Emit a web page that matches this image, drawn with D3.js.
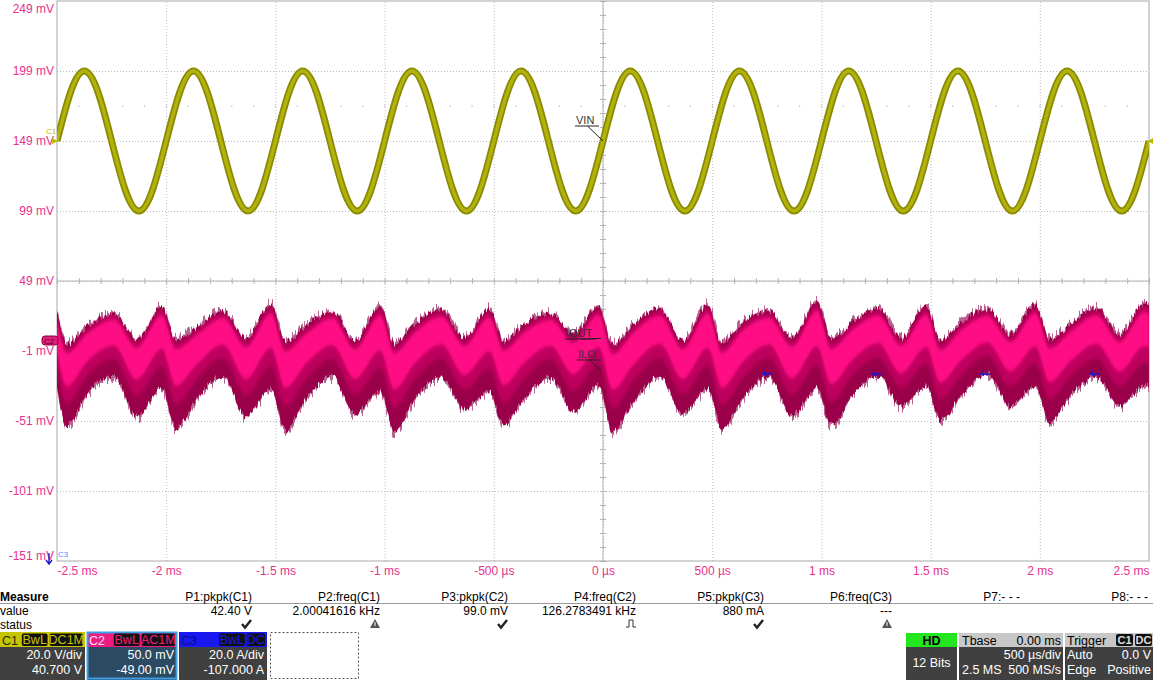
<!DOCTYPE html>
<html>
<head>
<meta charset="utf-8">
<script src="https://cdn.jsdelivr.net/npm/d3@7"></script>
<style>
  body { margin: 0; background: #fff; }
  svg { display: block; font-family: "Liberation Sans", Arial, sans-serif; }
</style>
</head>
<body>
<svg id="scope" width="1153" height="680"></svg>
<script>
// ---- data ----
var timeTicks = [-2.5, -2, -1.5, -1, -0.5, 0, 0.5, 1, 1.5, 2, 2.5];           // ms
var timeLabels = ["-2.5 ms", "-2 ms", "-1.5 ms", "-1 ms", "-500 µs", "0 µs",
                  "500 µs", "1 ms", "1.5 ms", "2 ms", "2.5 ms"];
var voltTicks = [249, 199, 149, 99, 49, -1, -51, -101, -151];                  // mV

// C1 / VIN, one sample every 0.0625 ms from -2.5 ms
var vinStart = -2.5, vinStep = 0.0625;
var vinMv = [
  149, 184, 199, 184, 149, 114, 99, 114,
  149, 184, 199, 184, 149, 114, 99, 114,
  149, 184, 199, 184, 149, 114, 99, 114,
  149, 184, 199, 184, 149, 114, 99, 114,
  149, 184, 199, 184, 149, 114, 99, 114,
  149, 184, 199, 184, 149, 114, 99, 114,
  149, 184, 199, 184, 149, 114, 99, 114,
  149, 184, 199, 184, 149, 114, 99, 114,
  149, 184, 199, 184, 149, 114, 99, 114,
  149, 184, 199, 184, 149, 114, 99, 114,
  149
];

// C2 / IOUT envelope (upper and lower edge of the noisy band)
var ilTime = [-2.5,
  -2.455, -2.36, -2.24, -2.135, -2.02,
  -1.955, -1.86, -1.74, -1.635, -1.52,
  -1.455, -1.36, -1.24, -1.135, -1.02,
  -0.955, -0.86, -0.74, -0.635, -0.52,
  -0.455, -0.36, -0.24, -0.135, -0.02,
  0.045, 0.14, 0.26, 0.365, 0.48,
  0.545, 0.64, 0.76, 0.865, 0.98,
  1.045, 1.14, 1.26, 1.365, 1.48,
  1.545, 1.64, 1.76, 1.865, 1.98,
  2.045, 2.14, 2.26, 2.365, 2.48,
  2.5];
var ilHigh = [28.3,
  4.7, 17.6, 26.9, 8.3, 31.9,
  8.3, 16.9, 28.3, 9.0, 33.3,
  6.9, 17.6, 28.3, 6.9, 31.9,
  5.4, 19.0, 29.7, 9.0, 30.4,
  6.9, 19.0, 26.9, 11.9, 31.9,
  4.7, 19.0, 30.4, 6.9, 33.3,
  5.4, 20.4, 28.3, 9.0, 35.4,
  8.3, 20.4, 30.4, 9.0, 31.9,
  6.9, 20.4, 29.7, 11.9, 33.3,
  8.3, 19.0, 30.4, 11.9, 34.0,
  33.0];
var ilLow = [-28.9,
  -55.3, -32.4, -19.6, -48.9, -28.9,
  -57.4, -36.0, -19.6, -48.9, -28.9,
  -58.9, -36.1, -20.3, -46.7, -31.0,
  -59.6, -36.1, -20.3, -43.2, -31.0,
  -55.3, -36.1, -20.3, -45.3, -26.7,
  -59.6, -38.3, -20.3, -46.7, -28.9,
  -57.4, -36.1, -19.6, -48.1, -28.9,
  -55.3, -33.9, -19.6, -41.0, -26.7,
  -51.7, -33.9, -18.0, -41.0, -26.7,
  -52.4, -33.9, -20.3, -41.0, -26.7,
  -27.5];

// C3 fragments visible on screen
var c3Time = [0.75, 1.25, 1.75, 2.25];
var c3Mv = [-17.5, -17.5, -17.5, -17.5];

// measurement table
var measNames = ["P1:pkpk(C1)", "P2:freq(C1)", "P3:pkpk(C2)", "P4:freq(C2)",
                 "P5:pkpk(C3)", "P6:freq(C3)", "P7:- - -", "P8:- - -"];
var measValues = ["42.40 V", "2.00041616 kHz", "99.0 mV", "126.2783491 kHz",
                  "880 mA", "---", "", ""];
var measStatus = ["ok", "warn", "ok", "pulse", "ok", "warn", "", ""];

// ---- layout ----
var svg = d3.select("#scope");
var plot = { left: 57, right: 1149, top: 1, bottom: 561 };
var pink = "#e8308c";

var x = d3.scaleLinear().domain([-2.5, 2.5]).range([plot.left, plot.right]);
var y = d3.scaleLinear().domain([-151, 249]).range([plot.bottom, plot.top]);

var defs = svg.append("defs");
defs.append("clipPath").attr("id", "plotclip")
  .append("rect")
    .attr("x", plot.left).attr("y", plot.top)
    .attr("width", plot.right - plot.left).attr("height", plot.bottom - plot.top);

// hairy edges of the ripple band
function hairFilter(id, seed, scale) {
  var f = defs.append("filter").attr("id", id)
    .attr("x", "-2%").attr("y", "-40%").attr("width", "104%").attr("height", "180%");
  f.append("feTurbulence").attr("type", "fractalNoise")
    .attr("baseFrequency", "0.5 0.02").attr("numOctaves", 2).attr("seed", seed)
    .attr("result", "noise");
  f.append("feColorMatrix").attr("in", "noise").attr("type", "matrix")
    .attr("values", "0 0 0 0 0.5  0 2.4 0 0 -0.7  0 0 0 0 0  0 0 0 0 1")
    .attr("result", "map");
  f.append("feDisplacementMap").attr("in", "SourceGraphic").attr("in2", "map")
    .attr("scale", scale).attr("xChannelSelector", "R").attr("yChannelSelector", "G");
}
hairFilter("hair1", 4, 11);
hairFilter("hair2", 9, 6);
defs.append("filter").attr("id", "soft").attr("x", "-2%").attr("y", "-40%")
  .attr("width", "104%").attr("height", "180%")
  .append("feGaussianBlur").attr("stdDeviation", "1 2.2");

// grid (dotted)
var gridX = svg.append("g")
  .attr("transform", "translate(0," + plot.bottom + ")")
  .call(d3.axisBottom(x).tickValues(timeTicks.slice(1, -1))
    .tickSize(-(plot.bottom - plot.top)).tickFormat(""));
var gridY = svg.append("g")
  .attr("transform", "translate(" + plot.left + ",0)")
  .call(d3.axisLeft(y).tickValues(voltTicks.slice(1, -1))
    .tickSize(-(plot.right - plot.left)).tickFormat(""));
[gridX, gridY].forEach(function(g) {
  g.select(".domain").remove();
  g.selectAll("line").attr("stroke", "#bcbcbc").attr("stroke-dasharray", "1,2");
});

// faint dotted row at 174 mV
svg.append("g").selectAll("rect").data(d3.range(-2.4, 2.45, 0.1)).enter().append("rect")
  .attr("x", function(d) { return x(d) - 0.5; }).attr("y", y(174) - 0.5)
  .attr("width", 1.2).attr("height", 1.2).attr("fill", "#b0b0b0");

// centre cross with minor ticks
var cx = x(0), cy = y(49);
svg.append("line").attr("x1", cx).attr("x2", cx).attr("y1", plot.top).attr("y2", plot.bottom)
  .attr("stroke", "#b4b4b4");
svg.append("line").attr("x1", plot.left).attr("x2", plot.right).attr("y1", cy).attr("y2", cy)
  .attr("stroke", "#b4b4b4");
svg.append("g").attr("transform", "translate(0," + (cy + 3) + ")")
  .call(d3.axisTop(x).tickValues(d3.range(-2.5, 2.51, 0.1)).tickSize(6).tickFormat(""))
  .call(function(g) { g.select(".domain").remove(); g.selectAll("line").attr("stroke", "#b4b4b4"); });
svg.append("g").attr("transform", "translate(" + (cx + 3) + ",0)")
  .call(d3.axisLeft(y).tickValues(d3.range(-151, 250, 10)).tickSize(6).tickFormat(""))
  .call(function(g) { g.select(".domain").remove(); g.selectAll("line").attr("stroke", "#b4b4b4"); });

// frame
svg.append("rect")
  .attr("x", plot.left).attr("y", plot.top)
  .attr("width", plot.right - plot.left).attr("height", plot.bottom - plot.top)
  .attr("fill", "none").attr("stroke", "#a8a8a8");

// axis labels
var yAx = svg.append("g").attr("transform", "translate(" + (plot.left - 3) + ",0)")
  .call(d3.axisLeft(y).tickValues(voltTicks).tickSize(0).tickPadding(0)
    .tickFormat(function(d) { return d + " mV"; }));
yAx.select(".domain").remove();
yAx.selectAll("text").attr("fill", pink).style("font-size", "12px")
  .style("font-family", "Liberation Sans, Arial, sans-serif")
  .attr("dy", function(d) { return d === 249 ? "0.95em" : d === -151 ? "-0.1em" : "0.32em"; });

var xAx = svg.append("g").attr("transform", "translate(0," + plot.bottom + ")")
  .call(d3.axisBottom(x).tickValues(timeTicks).tickSize(0).tickPadding(5)
    .tickFormat(function(d, i) { return timeLabels[i]; }));
xAx.select(".domain").remove();
xAx.selectAll("text").attr("fill", pink).style("font-size", "12px")
  .style("font-family", "Liberation Sans, Arial, sans-serif")
  .attr("text-anchor", function(d, i) { return i === 0 ? "start" : i === timeTicks.length - 1 ? "end" : "middle"; });

// ---- traces ----
var traces = svg.append("g").attr("clip-path", "url(#plotclip)");

var ilData = ilTime.map(function(t, i) { return { t: t, hi: ilHigh[i], lo: ilLow[i] }; });
var band = d3.area().curve(d3.curveMonotoneX)
  .x(function(d) { return x(d.t); });
function bandPart(f0, f1) {
  return band
    .y0(function(d) { return y(d.hi - f1 * (d.hi - d.lo)); })
    .y1(function(d) { return y(d.hi - f0 * (d.hi - d.lo)); })(ilData);
}
traces.append("path").attr("d", bandPart(0, 1)).attr("fill", "#b86592").attr("filter", "url(#hair1)");
traces.append("path").attr("d", bandPart(0.02, 0.98)).attr("fill", "#9a0049").attr("filter", "url(#hair2)");
traces.append("path").attr("d", bandPart(0.06, 0.72)).attr("fill", "#bd005d").attr("filter", "url(#soft)");
traces.append("path").attr("d", bandPart(0.12, 0.52)).attr("fill", "#ff0a84").attr("filter", "url(#soft)");

// VIN
var vinLine = d3.line().curve(d3.curveNatural)
  .x(function(d, i) { return x(vinStart + i * vinStep); })
  .y(function(d) { return y(d); });
traces.append("path").attr("d", vinLine(vinMv)).attr("fill", "none")
  .attr("stroke", "#8a8a00").attr("stroke-width", 7);
traces.append("path").attr("d", vinLine(vinMv)).attr("fill", "none")
  .attr("stroke", "#b2b20e").attr("stroke-width", 3.5);

// C3 fragments
var c3 = traces.append("g").attr("stroke", "#1a1ad0").attr("stroke-width", 1.6);
c3.selectAll("line.h").data(c3Time).enter().append("line")
  .attr("x1", function(d) { return x(d) - 5; }).attr("x2", function(d) { return x(d) + 5; })
  .attr("y1", function(d, i) { return y(c3Mv[i]); }).attr("y2", function(d, i) { return y(c3Mv[i]); });
c3.selectAll("line.v").data(c3Time).enter().append("line")
  .attr("x1", function(d) { return x(d) - 2; }).attr("x2", function(d) { return x(d) - 2; })
  .attr("y1", function(d, i) { return y(c3Mv[i]) - 3; }).attr("y2", function(d, i) { return y(c3Mv[i]) + 2; });

// ---- trace labels and markers ----
function tag(label, tx, ty, px, py) {
  var g = svg.append("g");
  g.append("text").attr("x", tx).attr("y", ty).attr("font-size", 11).attr("fill", "#333")
    .text(label);
  var w = label.length * 7 + 2;
  g.append("line").attr("x1", tx - 1).attr("x2", tx + w).attr("y1", ty + 2).attr("y2", ty + 2)
    .attr("stroke", "#222");
  g.append("line").attr("x1", tx + w * 0.5).attr("y1", ty + 2).attr("x2", px).attr("y2", py)
    .attr("stroke", "#222");
}
tag("VIN", 576, 124, x(0), y(149));
tag("IOUT", 566, 337, x(0) - 2, y(8));
tag("ILO", 578, 358, x(0) - 2, y(-15));

// C1 marker
svg.append("text").attr("x", 46).attr("y", 134).attr("font-size", 8).attr("fill", "#b8b800").text("C1");
svg.append("path").attr("d", d3.line()([[52, y(149) - 3], [58, y(149)], [52, y(149) + 3]]))
  .attr("fill", "#b8b800");
svg.append("path").attr("d", d3.line()([[plot.right + 4, y(149) - 3], [plot.right - 1, y(149)], [plot.right + 4, y(149) + 3]]))
  .attr("fill", "#b8b800");
// C2 marker
svg.append("rect").attr("x", 42).attr("y", 336).attr("width", 16).attr("height", 9).attr("rx", 3)
  .attr("fill", "#e0207a").attr("stroke", "#8a0040");
svg.append("text").attr("x", 44).attr("y", 343.5).attr("font-size", 8).attr("fill", "#5a0028").text("C2");
// C3 marker
svg.append("text").attr("x", 58).attr("y", 557).attr("font-size", 8).attr("fill", "#5a8cff").text("C3");
svg.append("path").attr("d", "M49,553 V563 M46,560 L49,564 L52,560")
  .attr("stroke", "#1a1ad0").attr("stroke-width", 1.4).attr("fill", "none");

// ---- measurement table ----
var colRight = measNames.map(function(d, i) { return 252 + 128 * i; });
var meas = svg.append("g").attr("font-size", 12).attr("fill", "#000");
meas.append("text").attr("x", 0).attr("y", 601).attr("font-weight", "bold").text("Measure");
meas.append("text").attr("x", 0).attr("y", 615).text("value");
meas.append("text").attr("x", 0).attr("y", 629).text("status");
meas.append("line").attr("x1", 0).attr("x2", 1153).attr("y1", 603.5).attr("y2", 603.5)
  .attr("stroke", "#9a9a9a");
meas.selectAll("text.name").data(measNames).enter().append("text")
  .attr("x", function(d, i) { return colRight[i]; }).attr("y", 601)
  .attr("text-anchor", "end").text(function(d) { return d; });
meas.selectAll("text.val").data(measValues).enter().append("text")
  .attr("x", function(d, i) { return colRight[i]; })
  .attr("y", 615)
  .attr("text-anchor", "end").text(function(d) { return d; });
measStatus.forEach(function(s, i) {
  var cxs = colRight[i] - 5;
  if (s === "ok") {
    meas.append("path").attr("d", "M" + (cxs - 5) + ",624 L" + (cxs - 2) + ",627.5 L" + (cxs + 4) + ",620")
      .attr("stroke", "#222").attr("stroke-width", 2.4).attr("fill", "none");
  } else if (s === "warn") {
    meas.append("path").attr("d", "M" + (cxs - 5) + ",628 L" + cxs + ",619 L" + (cxs + 5) + ",628 Z")
      .attr("fill", "#555");
    meas.append("line").attr("x1", cxs).attr("x2", cxs).attr("y1", 622).attr("y2", 626)
      .attr("stroke", "#fff").attr("stroke-width", 1);
  } else if (s === "pulse") {
    meas.append("path").attr("d", "M" + (cxs - 5) + ",627 H" + (cxs - 2) + " V620 H" + (cxs + 2) + " V627 H" + (cxs + 5))
      .attr("stroke", "#333").attr("stroke-width", 1).attr("fill", "none");
  }
});

// ---- channel descriptor boxes ----
function chanBox(x0, w, head, headText, headTextCol, chips, chipCol, lines, bodyCol, border) {
  var g = svg.append("g").attr("font-size", 12.5);
  g.append("rect").attr("x", x0).attr("y", 632).attr("width", w).attr("height", 15).attr("fill", head);
  g.append("rect").attr("x", x0).attr("y", 647).attr("width", w).attr("height", 33).attr("fill", bodyCol);
  if (border) {
    g.append("rect").attr("x", x0 + 0.5).attr("y", 632.5).attr("width", w - 1).attr("height", 46)
      .attr("fill", "none").attr("stroke", border).attr("stroke-width", 2);
  }
  g.append("text").attr("x", x0 + 2).attr("y", 644.5).attr("fill", headTextCol).text(headText);
  var right = x0 + w - 2;
  chips.slice().reverse().forEach(function(c) {
    var cw = c.length * 7.6 + 3;
    g.append("rect").attr("x", right - cw).attr("y", 633.5).attr("width", cw).attr("height", 12.5)
      .attr("rx", 2).attr("fill", "#111");
    g.append("text").attr("x", right - cw / 2).attr("y", 644).attr("text-anchor", "middle")
      .attr("fill", chipCol).text(c);
    right -= cw + 2;
  });
  g.append("text").attr("x", x0 + w - 3).attr("y", 659).attr("text-anchor", "end").attr("fill", "#fff").text(lines[0]);
  g.append("text").attr("x", x0 + w - 3).attr("y", 674).attr("text-anchor", "end").attr("fill", "#fff").text(lines[1]);
}
chanBox(0, 85, "#c6c600", "C1", "#2a2a00", ["BwL", "DC1M"], "#c6c600", ["20.0 V/div", "40.700 V"], "#404040");
chanBox(87, 90, "#ec1c84", "C2", "#ffe0f0", ["BwL", "AC1M"], "#ec1c84", ["50.0 mV", "-49.00 mV"], "#2d4a63", "#3c9fe6");
chanBox(179, 88, "#1818f0", "C3", "#0a0a90", ["BwL", "DC"], "#1818f0", ["20.0 A/div", "-107.000 A"], "#404040");
svg.append("rect").attr("x", 270.5).attr("y", 632.5).attr("width", 88).attr("height", 46)
  .attr("fill", "none").attr("stroke", "#555").attr("stroke-dasharray", "2,2");

// acquisition / timebase / trigger boxes
var acq = svg.append("g").attr("font-size", 12.5);
acq.append("rect").attr("x", 906).attr("y", 633).attr("width", 51).attr("height", 14).attr("fill", "#22e61e");
acq.append("rect").attr("x", 906).attr("y", 647).attr("width", 51).attr("height", 33).attr("fill", "#404040");
acq.append("text").attr("x", 931.5).attr("y", 645).attr("text-anchor", "middle").attr("font-weight", "bold").text("HD");
acq.append("text").attr("x", 931.5).attr("y", 667).attr("text-anchor", "middle").attr("fill", "#fff").text("12 Bits");

acq.append("rect").attr("x", 959).attr("y", 633).attr("width", 104).attr("height", 14).attr("fill", "#c8c8c8");
acq.append("rect").attr("x", 959).attr("y", 647).attr("width", 104).attr("height", 33).attr("fill", "#404040");
acq.append("text").attr("x", 962).attr("y", 645).text("Tbase");
acq.append("text").attr("x", 1061).attr("y", 645).attr("text-anchor", "end").text("0.00 ms");
acq.append("text").attr("x", 1061).attr("y", 659).attr("text-anchor", "end").attr("fill", "#fff").text("500 µs/div");
acq.append("text").attr("x", 962).attr("y", 674).attr("fill", "#fff").text("2.5 MS");
acq.append("text").attr("x", 1061).attr("y", 674).attr("text-anchor", "end").attr("fill", "#fff").text("500 MS/s");

acq.append("rect").attr("x", 1065).attr("y", 633).attr("width", 88).attr("height", 14).attr("fill", "#c8c8c8");
acq.append("rect").attr("x", 1065).attr("y", 647).attr("width", 88).attr("height", 33).attr("fill", "#404040");
acq.append("text").attr("x", 1067).attr("y", 645).text("Trigger");
[["C1", 1116], ["DC", 1135]].forEach(function(c) {
  acq.append("rect").attr("x", c[1]).attr("y", 634).attr("width", 17).attr("height", 12).attr("rx", 2).attr("fill", "#111");
  acq.append("text").attr("x", c[1] + 8.5).attr("y", 644).attr("text-anchor", "middle")
    .attr("fill", "#ddd").attr("font-size", 11).attr("font-weight", "bold").text(c[0]);
});
acq.append("text").attr("x", 1067).attr("y", 659).attr("fill", "#fff").text("Auto");
acq.append("text").attr("x", 1151).attr("y", 659).attr("text-anchor", "end").attr("fill", "#fff").text("0.0 V");
acq.append("text").attr("x", 1067).attr("y", 674).attr("fill", "#fff").text("Edge");
acq.append("text").attr("x", 1151).attr("y", 674).attr("text-anchor", "end").attr("fill", "#fff").text("Positive");
</script>
</body>
</html>
